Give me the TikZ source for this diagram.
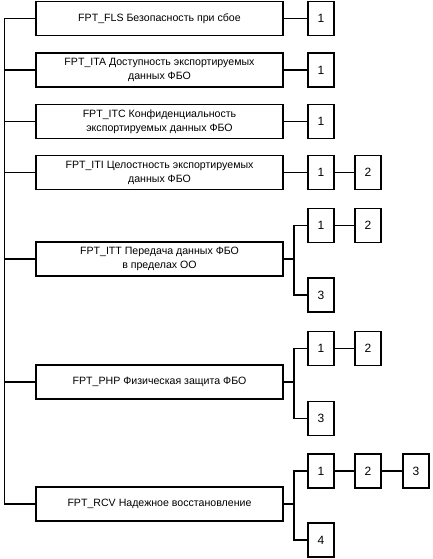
\documentclass[tikz,border=0pt]{standalone}
\usepackage{fontspec}
\setmainfont{Liberation Sans}
\usetikzlibrary{positioning}

\begin{document}
\begin{tikzpicture}[x=1pt, y=-1pt, line width=1.2pt,
    % --- стили ---
    family/.style={draw=black, minimum width=247pt, minimum height=34pt, inner sep=0pt,
        align=center, font=\fontsize{10.6}{14}\selectfont},
    comp/.style={draw=black, minimum width=26pt, minimum height=34pt, inner sep=0pt,
        font=\fontsize{12}{12}\selectfont}
]
    \useasboundingbox (0,0) rectangle (433,559);

    % =========================================
    % семейства класса FPT
    % =========================================
    \node[family] (fls) at (159.5, 18.5)  {FPT\_FLS Безопасность при сбое};
    \node[family] (ita) at (159.5, 70)    {FPT\_ITA Доступность экспортируемых\\данных ФБО};
    \node[family] (itc) at (159.5, 121.5) {FPT\_ITC Конфиденциальность\\экспортируемых данных ФБО};
    \node[family] (iti) at (159.5, 172.5) {FPT\_ITI Целостность экспортируемых\\данных ФБО};
    \node[family] (itt) at (159.5, 259)   {FPT\_ITT Передача данных ФБО\\в пределах ОО};
    \node[family] (php) at (159.5, 382)   {FPT\_PHP Физическая защита ФБО};
    \node[family] (rcv) at (159.5, 504)   {FPT\_RCV Надежное восстановление};

    % левая шина
    \coordinate (bus)  at (4.5, 0);
    \draw (fls.west) -| (bus |- rcv.west) -- (rcv.west);
    \draw (ita.west) -- (ita.west -| bus);
    \draw (itc.west) -- (itc.west -| bus);
    \draw (iti.west) -- (iti.west -| bus);
    \draw (itt.west) -- (itt.west -| bus);
    \draw (php.west) -- (php.west -| bus);

    % точка ветвления
    \coordinate (fork) at (294, 0);

    % =========================================
    % компоненты (одна ветвь)
    % =========================================
    \node[comp] (fls1) at (321, 18.5)  {1};
    \node[comp] (ita1) at (321, 70)    {1};
    \node[comp] (itc1) at (321, 121.5) {1};
    \node[comp] (iti1) at (321, 172.5) {1};
    \node[comp] (iti2) at (368, 172.5) {2};

    \draw (fls.east) -- (fls1.west);
    \draw (ita.east) -- (ita1.west);
    \draw (itc.east) -- (itc1.west);
    \draw (iti.east) -- (iti1.west);
    \draw (iti1.east) -- (iti2.west);

    % =========================================
    % компоненты (две ветви)
    % =========================================
    % FPT_ITT
    \node[comp] (itt1) at (321, 225.5) {1};
    \node[comp] (itt2) at (368, 225.5) {2};
    \node[comp] (itt3) at (321, 295)   {3};
    \draw (itt.east) -- (itt.east -| fork);
    \draw (itt1.west) -| (fork |- itt.east) |- (itt3.west);
    \draw (itt1.east) -- (itt2.west);

    % FPT_PHP
    \node[comp] (php1) at (321, 348.5) {1};
    \node[comp] (php2) at (368, 348.5) {2};
    \node[comp] (php3) at (321, 418.5) {3};
    \draw (php.east) -- (php.east -| fork);
    \draw (php1.west) -| (fork |- php.east) |- (php3.west);
    \draw (php1.east) -- (php2.west);

    % FPT_RCV
    \node[comp] (rcv1) at (321, 471)   {1};
    \node[comp] (rcv2) at (368, 471)   {2};
    \node[comp] (rcv3) at (416, 471)   {3};
    \node[comp] (rcv4) at (321, 540)   {4};
    \draw (rcv.east) -- (rcv.east -| fork);
    \draw (rcv1.west) -| (fork |- rcv.east) |- (rcv4.west);
    \draw (rcv1.east) -- (rcv2.west);
    \draw (rcv2.east) -- (rcv3.west);

\end{tikzpicture}
\end{document}
